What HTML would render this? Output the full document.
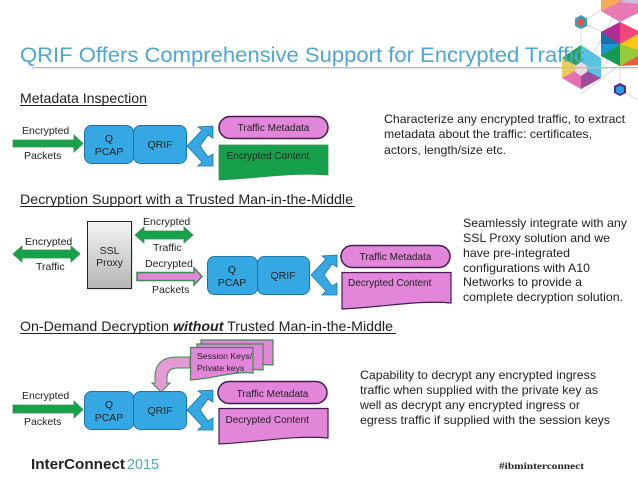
<!DOCTYPE html>
<html><head><meta charset="utf-8"><style>
html,body{margin:0;padding:0;background:#fff}
svg{display:block}
text{font-family:"Liberation Sans",sans-serif;fill:#222}
</style></head><body>
<svg width="638" height="479" viewBox="0 0 638 479" xmlns="http://www.w3.org/2000/svg">
<defs>
<linearGradient id="g" x1="0" y1="0" x2="0" y2="1"><stop offset="0" stop-color="#f4f4f4"/><stop offset="1" stop-color="#b4b4b4"/></linearGradient>
<g id="chev"><path d="M0 20 L15 4 L11 1 L26 0 L26 12 L21 9 L13 20 L21 31 L26 28 L26 40 L11 40 L15 36 Z" fill="#35a8e4" stroke="#1b76a8" stroke-width=".8"/></g>
</defs>

<!-- decoration -->
<g stroke="#ccc" stroke-width=".7" fill="none">
<path d="M581 22 L620 40 M582 22 L608 6 M581 22 L581 50 M620 40 L592 85 M620 5 L590 60 M581 94 L620 65 M620 66 L620 90 M620 90 L638 100"/>
</g>
<polygon points="581,15 587,18.500 587,26 581,29 575,26 575,18.500" fill="#3f9bbd"/>
<polygon points="581,18 584,20 584,24.500 581,26 578,24.500 578,20" fill="#e4573d"/>
<polygon points="620,-8 638,-8 638,13 620,22 601,11 601,-8" fill="#e97ab7"/>
<polygon points="601,-8 620,-8 620,2 601,11" fill="#f5ac58"/>
<polygon points="620,2 638,-8 638,4" fill="#c8c0d8"/>
<polygon points="620,22 638,31 638,65 620,66 601,56 601,32" fill="#ef5b3e"/>
<polygon points="620,44 601,32 620,22" fill="#b62a96"/>
<polygon points="620,44 620,22 638,31 638,34" fill="#f1477a"/>
<polygon points="620,44 638,34 638,50" fill="#fbc912"/>
<polygon points="620,44 638,50 638,56 620,66" fill="#97c93c"/>
<polygon points="620,44 620,66 601,56" fill="#119c56"/>
<polygon points="620,44 601,56 601,44" fill="#1a96d5"/>
<polygon points="620,44 601,44 601,32" fill="#1d6fa8"/>
<polygon points="581,45 601,58 601,78 581,89 562,78 562,58" fill="#58c3e3"/>
<polygon points="581,45 562,58 581,68" fill="#2aa35a"/>
<polygon points="562,58 562,78 581,68" fill="#f4c955"/>
<polygon points="562,78 581,89 581,68" fill="#e86fb0"/>
<polygon points="581,89 601,78 581,68" fill="#a04c9e"/>
<polygon points="581,62 587,66 587,72 581,76 575,72 575,66" fill="#f0dbe2"/>
<polygon points="620,83 626,86 626,93 620,96 614,93 614,86" fill="#5c2a8c"/>
<polygon points="620,85.500 624,87.500 624,92 620,94 616,92 616,87.500" fill="#1c9fe0"/>

<!-- title -->
<text x="20" y="62" font-size="21" style="fill:#4ea7d2" textLength="565" lengthAdjust="spacingAndGlyphs">QRIF Offers Comprehensive Support for Encrypted Traffic</text>
<rect x="32" y="67" width="606" height="1.400" fill="#bdbdbd"/>

<!-- headings -->
<text x="20" y="103" font-size="14" textLength="127" lengthAdjust="spacingAndGlyphs">Metadata Inspection</text>
<rect x="20" y="105" width="127" height="1" fill="#222"/>
<text x="20" y="204" font-size="14" textLength="333" lengthAdjust="spacingAndGlyphs">Decryption Support with a Trusted Man-in-the-Middle</text>
<rect x="20" y="206" width="335" height="1" fill="#222"/>
<text x="20" y="331" font-size="14" textLength="373" lengthAdjust="spacingAndGlyphs">On-Demand Decryption <tspan font-weight="bold" font-style="italic">without</tspan> Trusted Man-in-the-Middle</text>
<rect x="20" y="333" width="376" height="1" fill="#222"/>

<!-- Section 1 -->
<text x="22" y="134" font-size="10.500">Encrypted</text>
<text x="24" y="159" font-size="10.500">Packets</text>
<path d="M13 140 H74 V135 L83 143.500 L74 152 V147 H13 Z" fill="#16a24a" stroke="#3c8c4d" stroke-width=".8"/>
<rect x="84.500" y="125.500" width="49" height="38" rx="7" fill="#35a8e4" stroke="#1b76a8"/>
<rect x="133.500" y="125.500" width="53" height="38" rx="7" fill="#35a8e4" stroke="#1b76a8"/>
<text x="109" y="142" font-size="10.500" text-anchor="middle">Q</text>
<text x="109" y="155" font-size="10.500" text-anchor="middle">PCAP</text>
<text x="160" y="148" font-size="10.500" text-anchor="middle">QRIF</text>
<use href="#chev" x="187" y="126"/>
<rect x="219" y="116.500" width="109" height="22" rx="11" fill="#e286da" stroke="#451a52" stroke-width="1.500"/>
<text x="273.500" y="131" font-size="10" text-anchor="middle">Traffic Metadata</text>
<path d="M219 145 H328 V175 C295 172 260 178 219 180 Z" fill="#16a04c" stroke="#2f8f4e" stroke-width=".8"/>
<text x="226.500" y="159" font-size="10">Encrypted Content</text>

<text x="384" y="123" font-size="11.700" textLength="241" lengthAdjust="spacingAndGlyphs">Characterize any encrypted traffic, to extract</text>
<text x="384" y="138" font-size="11.700" textLength="208" lengthAdjust="spacingAndGlyphs">metadata about the traffic: certificates,</text>
<text x="384" y="154" font-size="11.700" textLength="122" lengthAdjust="spacingAndGlyphs">actors, length/size etc.</text>

<!-- Section 2 -->
<text x="25" y="245" font-size="10.500">Encrypted</text>
<text x="36" y="270" font-size="10.500">Traffic</text>
<path d="M13 254 L22 246 V250 H71 V246 L80 254 L71 262 V258 H22 V262 Z" fill="#16a24a" stroke="#3c8c4d" stroke-width=".8"/>
<rect x="88.500" y="222.500" width="44" height="67" fill="#999" opacity=".5"/>
<rect x="87.500" y="221.500" width="44" height="67" fill="url(#g)" stroke="#222"/>
<text x="109.500" y="254" font-size="10.500" text-anchor="middle">SSL</text>
<text x="109.500" y="266" font-size="10.500" text-anchor="middle">Proxy</text>
<text x="143" y="225" font-size="10.500">Encrypted</text>
<text x="153" y="251" font-size="10.500">Traffic</text>
<path d="M135 235 L144 227 V231 H184 V227 L193 235 L184 243 V239 H144 V243 Z" fill="#16a24a" stroke="#3c8c4d" stroke-width=".8"/>
<text x="145" y="267" font-size="10.500">Decrypted</text>
<text x="152" y="293" font-size="10.500">Packets</text>
<path d="M137 272.500 H194 V268 L202 276.500 L194 285 V280.500 H137 Z" fill="#e286da" stroke="#3c8c4d" stroke-width="1.500"/>
<rect x="207.500" y="256.500" width="50" height="38" rx="7" fill="#35a8e4" stroke="#1b76a8"/>
<rect x="257.500" y="256.500" width="52" height="38" rx="7" fill="#35a8e4" stroke="#1b76a8"/>
<text x="232" y="273" font-size="10.500" text-anchor="middle">Q</text>
<text x="232" y="286" font-size="10.500" text-anchor="middle">PCAP</text>
<text x="283" y="279" font-size="10.500" text-anchor="middle">QRIF</text>
<use href="#chev" x="311" y="255"/>
<rect x="341" y="245.500" width="109" height="22" rx="11" fill="#e286da" stroke="#451a52" stroke-width="1.500"/>
<text x="395.500" y="260" font-size="10" text-anchor="middle">Traffic Metadata</text>
<path d="M342 272.500 H451 V303 C418 300 385 307 342 309 Z" fill="#e286da" stroke="#451a52" stroke-width="1.200"/>
<text x="348" y="286" font-size="10">Decrypted Content</text>

<text x="463" y="227" font-size="11.700" textLength="164" lengthAdjust="spacingAndGlyphs">Seamlessly integrate with any</text>
<text x="463" y="242" font-size="11.700" textLength="147" lengthAdjust="spacingAndGlyphs">SSL Proxy solution and we</text>
<text x="463" y="257" font-size="11.700" textLength="107" lengthAdjust="spacingAndGlyphs">have pre-integrated</text>
<text x="463" y="272" font-size="11.700" textLength="127" lengthAdjust="spacingAndGlyphs">configurations with A10</text>
<text x="463" y="286" font-size="11.700" textLength="119" lengthAdjust="spacingAndGlyphs">Networks to provide a</text>
<text x="463" y="301" font-size="11.700" textLength="160" lengthAdjust="spacingAndGlyphs">complete decryption solution.</text>

<!-- Section 3 -->
<path d="M201 340 H273 V365 C245 363 225 369 201 371 Z" fill="#e286da" stroke="#3c8c4d" stroke-width="1.200"/>
<path d="M197 344 H263 V370 C238 368 218 374 197 376 Z" fill="#e286da" stroke="#3c8c4d" stroke-width="1.200"/>
<path d="M190.500 347.500 H253 V373 C232 371 212 379 190.500 380 Z" fill="#e286da" stroke="#3c8c4d" stroke-width="1.200"/>
<text x="197" y="359" font-size="8.700">Session Keys/</text>
<text x="197" y="371" font-size="8.700">Private keys</text>
<path d="M190 357 H176 C162 357 155 365 155 376 V383 H152 L161 392 L170 383 H167 V378 C167 371 171 368 178 368 H190 Z" fill="#e39ad5" stroke="#3c8c4d" stroke-width="1"/>
<text x="22" y="399" font-size="10.500">Encrypted</text>
<text x="24" y="425" font-size="10.500">Packets</text>
<path d="M13 405 H74 V401 L83 409.500 L74 418 V413 H13 Z" fill="#16a24a" stroke="#3c8c4d" stroke-width=".8"/>
<rect x="84.500" y="391.500" width="49" height="38" rx="7" fill="#35a8e4" stroke="#1b76a8"/>
<rect x="133.500" y="391.500" width="53" height="38" rx="7" fill="#35a8e4" stroke="#1b76a8"/>
<text x="109" y="408" font-size="10.500" text-anchor="middle">Q</text>
<text x="109" y="421" font-size="10.500" text-anchor="middle">PCAP</text>
<text x="160" y="414" font-size="10.500" text-anchor="middle">QRIF</text>
<use href="#chev" x="187" y="390"/>
<rect x="218" y="381.500" width="109" height="22" rx="11" fill="#e286da" stroke="#451a52" stroke-width="1.500"/>
<text x="272.500" y="397" font-size="10" text-anchor="middle">Traffic Metadata</text>
<path d="M219 408.500 H328 V438 C295 435 260 442 219 444 Z" fill="#e286da" stroke="#451a52" stroke-width="1.200"/>
<text x="225.500" y="423" font-size="10">Decrypted Content</text>

<text x="360" y="379" font-size="11.700" textLength="236" lengthAdjust="spacingAndGlyphs">Capability to decrypt any encrypted ingress</text>
<text x="360" y="394" font-size="11.700" textLength="238" lengthAdjust="spacingAndGlyphs">traffic when supplied with the private key as</text>
<text x="360" y="409" font-size="11.700" textLength="220" lengthAdjust="spacingAndGlyphs">well as decrypt any encrypted ingress or</text>
<text x="360" y="424" font-size="11.700" textLength="250" lengthAdjust="spacingAndGlyphs">egress traffic if supplied with the session keys</text>

<!-- footer -->
<text x="31" y="469" font-size="14.500" font-weight="bold" textLength="94" lengthAdjust="spacingAndGlyphs">InterConnect</text>
<text x="127" y="469" font-size="14.500" style="fill:#4ea7c8" textLength="32" lengthAdjust="spacingAndGlyphs">2015</text>
<text x="499" y="469" font-size="9.500" font-weight="bold" style="font-family:'Liberation Serif',serif" textLength="85" lengthAdjust="spacingAndGlyphs">#ibminterconnect</text>
</svg>
</body></html>
